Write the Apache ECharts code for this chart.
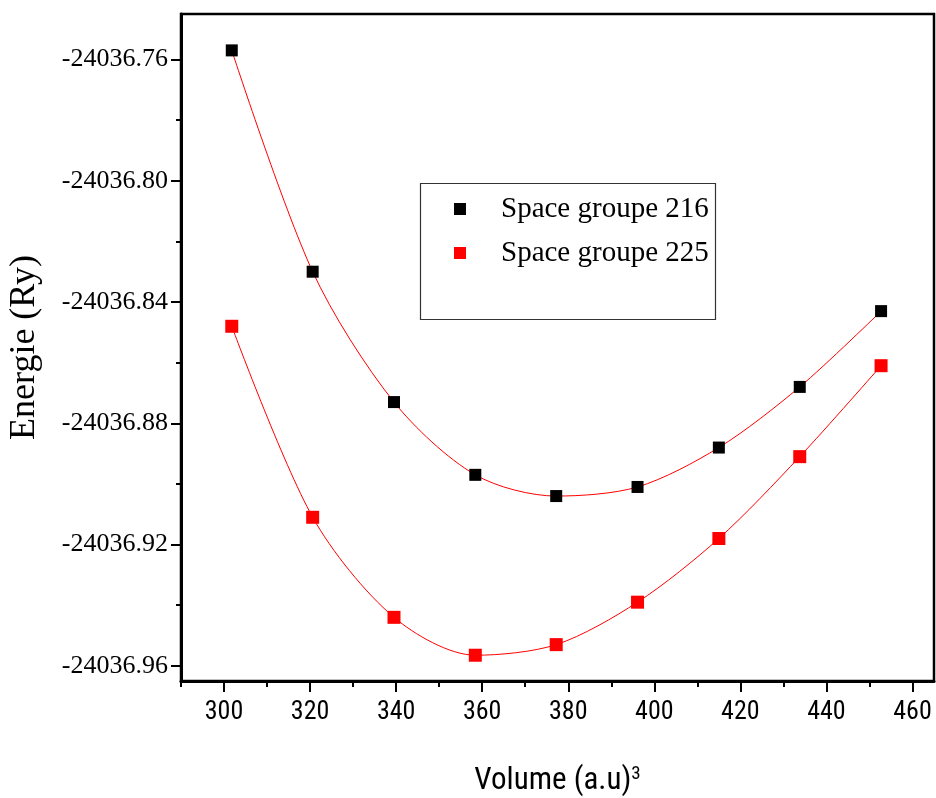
<!DOCTYPE html>
<html>
<head>
<meta charset="utf-8">
<script src="https://cdn.jsdelivr.net/npm/echarts@6/dist/echarts.min.js"></script>
<style>
  html, body { margin: 0; padding: 0; background: #fff; }
  #chart { width: 936px; height: 798px; }
</style>
</head>
<body>
<div id="chart"></div>
<script>
// volumes (a.u)^3
const volumes = [301.8, 320.6, 339.5, 358.4, 377.2, 396.1, 415.0, 433.8, 452.7];
// energies (Ry)
const energy216 = [-24036.757, -24036.830, -24036.873, -24036.897, -24036.904, -24036.901, -24036.888, -24036.868, -24036.843];
const energy225 = [-24036.848, -24036.911, -24036.944, -24036.9565, -24036.953, -24036.939, -24036.918, -24036.891, -24036.861];

const xMajorTicks = [300, 320, 340, 360, 380, 400, 420, 440, 460];
const xMinorTicks = [290, 310, 330, 350, 370, 390, 410, 430, 450];
const yMajorTicks = [-24036.96, -24036.92, -24036.88, -24036.84, -24036.80, -24036.76];
const yMinorTicks = [-24036.94, -24036.90, -24036.86, -24036.82, -24036.78];

const chart = echarts.init(document.getElementById('chart'));

const serif = "'Liberation Serif', 'DejaVu Serif', serif";
const narrow = "'Liberation Sans Narrow', 'Roboto Condensed', 'Liberation Sans', sans-serif";

const option = {
  animation: false,
  backgroundColor: '#fff',
  grid: {
    left: 181, top: 14, right: 2, bottom: 117,
    outerBoundsMode: 'none',
    containLabel: false,
    show: true,
    borderColor: '#000',
    borderWidth: 2.5
  },
  legend: {
    left: 449, top: 188,
    orient: 'vertical',
    icon: 'rect',
    itemWidth: 12, itemHeight: 12,
    itemGap: 12,
    textStyle: {
      fontFamily: serif, fontSize: 29, color: '#000',
      lineHeight: 32, padding: [0, 0, 0, 30]
    },
    data: ['Space groupe 216', 'Space groupe 225']
  },
  graphic: [{
    type: 'rect',
    left: 418, top: 181,
    shape: { width: 295, height: 136 },
    style: { fill: 'none', stroke: '#333', lineWidth: 1.2 },
    z: 1
  }],
  xAxis: [{
    type: 'value',
    min: 290, max: 465,
    name: 'Volume (a.u){sup|3}',
    nameLocation: 'middle',
    nameGap: 84,
    nameTextStyle: {
      fontFamily: narrow, fontSize: 31, color: '#000',
      rich: { sup: { fontFamily: narrow, fontSize: 19, color: '#000', verticalAlign: 'top', padding: [0, 0, 14, 0] } }
    },
    axisLine: { show: true, lineStyle: { color: '#000', width: 3 } },
    axisTick: { show: true, inside: false, length: 11, lineStyle: { color: '#000', width: 2 }, customValues: xMajorTicks },
    axisLabel: { customValues: xMajorTicks, margin: 18, fontFamily: narrow, fontSize: 26, color: '#000' },
    splitLine: { show: false }
  }, {
    type: 'value',
    min: 290, max: 465,
    position: 'bottom',
    axisLine: { show: false },
    axisTick: { show: true, length: 6, lineStyle: { color: '#000', width: 2 }, customValues: xMinorTicks },
    axisLabel: { show: false },
    splitLine: { show: false }
  }],
  yAxis: [{
    type: 'value',
    min: -24036.965, max: -24036.745,
    name: 'Energie (Ry)',
    nameLocation: 'middle',
    nameGap: 138,
    nameTextStyle: { fontFamily: serif, fontSize: 36, color: '#000' },
    axisLine: { show: true, lineStyle: { color: '#000', width: 3 } },
    axisTick: { show: true, inside: false, length: 10, lineStyle: { color: '#000', width: 2 }, customValues: yMajorTicks },
    axisLabel: {
      customValues: yMajorTicks, margin: 13,
      fontFamily: serif, fontSize: 26, color: '#000',
      formatter: v => v.toFixed(2)
    },
    splitLine: { show: false }
  }, {
    type: 'value',
    min: -24036.965, max: -24036.745,
    position: 'left',
    axisLine: { show: false },
    axisTick: { show: true, length: 5, lineStyle: { color: '#000', width: 2 }, customValues: yMinorTicks },
    axisLabel: { show: false },
    splitLine: { show: false }
  }],
  series: [{
    name: 'Space groupe 216',
    type: 'line',
    smooth: 0.3,
    symbol: 'rect',
    symbolSize: 12,
    itemStyle: { color: '#000' },
    lineStyle: { color: '#ff0000', width: 1 },
    data: volumes.map((v, i) => [v, energy216[i]])
  }, {
    name: 'Space groupe 225',
    type: 'line',
    smooth: 0.3,
    symbol: 'rect',
    symbolSize: 13,
    itemStyle: { color: '#ff0000' },
    lineStyle: { color: '#ff0000', width: 1 },
    data: volumes.map((v, i) => [v, energy225[i]])
  }]
};

chart.setOption(option);
</script>
</body>
</html>
